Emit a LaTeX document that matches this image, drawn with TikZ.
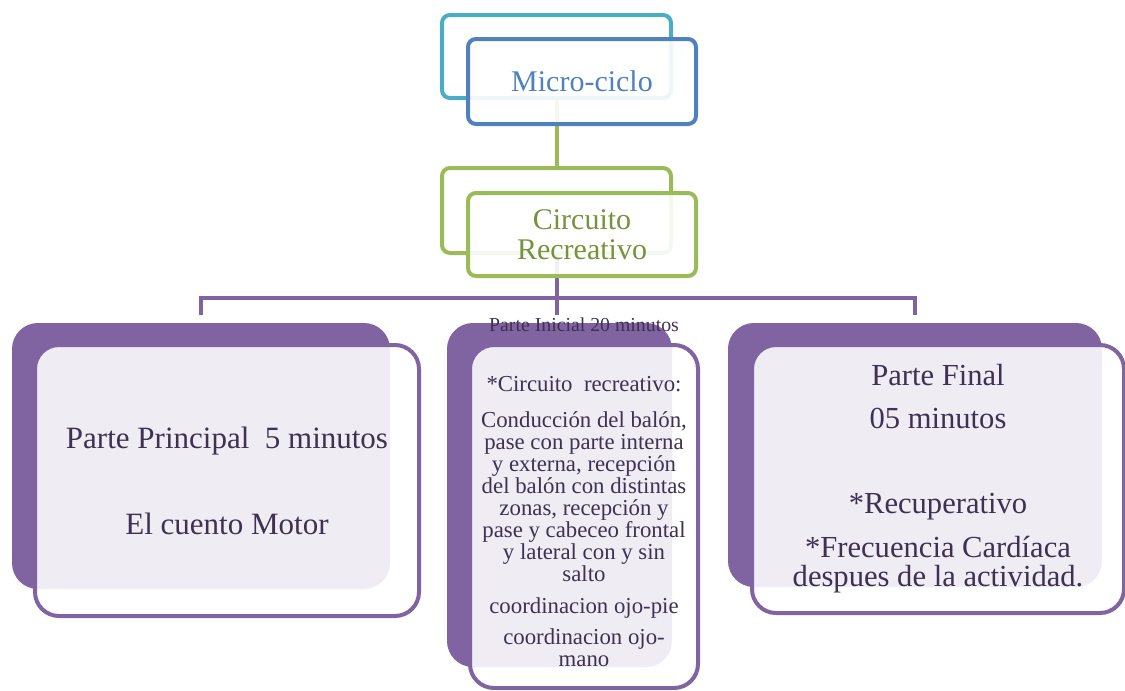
\documentclass[tikz,border=0pt]{standalone}
\usepackage{fontspec}
\setmainfont{Liberation Serif}
\usepackage{tikz}
\usetikzlibrary{positioning}

\definecolor{cyanline}{HTML}{4BACC6}
\definecolor{blueline}{HTML}{4F81BD}
\definecolor{greenline}{HTML}{9BBB59}
\definecolor{greentext}{HTML}{76923C}
\definecolor{purpleline}{HTML}{8064A2}
\definecolor{purpletext}{HTML}{3F3151}

\tikzset{
	backbox/.style={draw, line width=2pt, rounded corners=4pt, inner sep=0pt},
	frontbox/.style={draw, line width=2pt, rounded corners=4pt, fill=white,
		fill opacity=0.9, text opacity=1, inner sep=0pt, align=center},
	partback/.style={draw=purpleline, fill=purpleline, line width=2pt,
		rounded corners=12pt, inner sep=0pt},
	partfront/.style={draw=purpleline, line width=2pt, rounded corners=12pt,
		fill=white, fill opacity=0.88, text opacity=1, inner sep=0pt,
		align=center, text=purpletext},
	tree/.style={draw=purpleline, line width=2pt},
}

\begin{document}
\begin{tikzpicture}[x=0.5pt, y=-0.5pt]
	
	\useasboundingbox (0,0) rectangle (1125,691);
	
	% back boxes
	\node[backbox, draw=cyanline, minimum width=114.5pt, minimum height=41.5pt] (microback) at (556.5,56.5) {};
	\node[backbox, draw=greenline, minimum width=114.5pt, minimum height=42.5pt] (circback) at (556.5,210.5) {};
	\node[partback, minimum width=187pt, minimum height=131pt] (leftback) at (201,456) {};
	\node[partback, minimum width=110.5pt, minimum height=170pt] (midback) at (559.5,495) {};
	\node[partback, minimum width=185pt, minimum height=130pt] (rightback) at (915,455) {};
	
	% connectors
	\coordinate (fork) at (556.5,298);
	\draw[greenline, line width=2pt] (microback.south) -- (circback.north);
	\draw[tree] (circback.south) -- (fork);
	\draw[tree, shorten >=4pt] (fork) -| (leftback.north);
	\draw[tree, shorten >=4pt] (fork) -| (rightback.north);
	\draw[tree, shorten >=4pt] (fork) -- (fork |- midback.north);
	
	% front boxes
	\node[frontbox, draw=blueline, text=blueline, minimum width=114pt, minimum height=42.5pt,
		font=\fontsize{15}{15}\selectfont] (micro) at (582,81.5) {Micro-ciclo};
	\node[frontbox, draw=greenline, text=greentext, minimum width=114pt, minimum height=41.5pt,
		font=\fontsize{15}{15}\selectfont] (circ) at (582,234.5) {Circuito\\Recreativo};
	
	\node[partfront, minimum width=192pt, minimum height=135.5pt,
		font=\fontsize{15.5}{15.5}\selectfont] (principal) at (227,480.5)
		{Parte Principal\ \ 5 minutos\\[27.5pt]El cuento Motor};
	
	\node[partfront, minimum width=114pt, minimum height=171.5pt,
		font=\fontsize{11.4}{11}\selectfont] (inicial) at (584,516.5) {};
	\node[text=purpletext, align=center, inner sep=0pt,
		font=\fontsize{11.4}{11}\selectfont, yshift=-2.5pt] (inicialtext) at (inicial.center)
		{*Circuito\ \ recreativo:\\[7pt]
		Conducción del balón,\\
		pase con parte interna\\
		y externa, recepción\\
		del balón con distintas\\
		zonas, recepción y\\
		pase y cabeceo frontal\\
		y lateral con y sin\\
		salto\\[5pt]
		coordinacion ojo-pie\\[4.5pt]
		coordinacion ojo-\\
		mano};
	
	\node[partfront, minimum width=186pt, minimum height=134pt,
		font=\fontsize{15.3}{14.5}\selectfont] (final) at (938,479)
		{Parte Final\\[7pt]05 minutos\\[28pt]*Recuperativo\\[7.5pt]*Frecuencia Cardíaca\\despues de la actividad.};
	
	% label of the middle part
	\node[text=purpletext, inner sep=0pt, font=\fontsize{9.9}{10}\selectfont,
		above=9pt of inicial.north, anchor=center] (inicialtitle) {Parte Inicial 20 minutos};
	
\end{tikzpicture}
\end{document}
